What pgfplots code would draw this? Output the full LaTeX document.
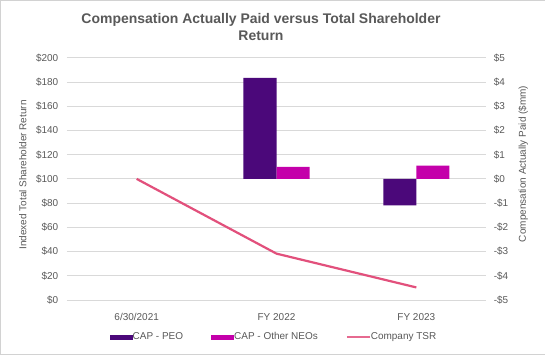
\documentclass[border=0pt]{standalone}
\usepackage{pgfplots}
\pgfplotsset{compat=1.18}
\usepackage{fontspec}
\setmainfont{Liberation Sans}
\definecolor{peo}{HTML}{4B087A}
\definecolor{neo}{HTML}{C400AA}
\definecolor{tsr}{HTML}{E2507C}
\definecolor{gridgray}{HTML}{D9D9D9}
\definecolor{txtgray}{HTML}{595959}
\begin{document}
\begin{tikzpicture}
\draw[gray!35, fill=white] (-66.5bp,-54.5bp) rectangle (477.5bp,299.5bp);
\begin{axis}[
  at={(0,0)}, anchor=south west,
  width=419bp, height=242bp, scale only axis,
  xmin=-0.5, xmax=2.5, ymin=0, ymax=200,
  xtick={0,1,2}, xticklabels={6/30/2021,FY 2022,FY 2023},
  ytick={0,20,...,200},
  yticklabels={\$0,\$20,\$40,\$60,\$80,\$100,\$120,\$140,\$160,\$180,\$200},
  ymajorgrids, grid style={color=gridgray, line width=0.9bp},
  axis line style={draw=none}, major tick length=0pt,
  tick label style={font=\fontsize{10}{12}\selectfont, text=txtgray},
  yticklabel style={xshift=-5bp},
  xticklabel style={yshift=-10bp},
  clip=false,
]
\addplot[tsr, line width=2.2bp] coordinates {(0,100) (1,38.3) (2,10.4)};
\end{axis}
\begin{axis}[
  at={(0,0)}, anchor=south west,
  width=419bp, height=242bp, scale only axis,
  xmin=-0.5, xmax=2.5, ymin=-5, ymax=5,
  axis x line=none, axis y line*=right,
  ytick={-5,-4,...,5},
  yticklabels={-\$5,-\$4,-\$3,-\$2,-\$1,\$0,\$1,\$2,\$3,\$4,\$5},
  axis line style={draw=none}, major tick length=0pt,
  tick label style={font=\fontsize{10}{12}\selectfont, text=txtgray},
  yticklabel style={xshift=4bp},
  ybar, bar width=33bp,
  legend columns=3,
  legend style={draw=none, fill=none, font=\fontsize{10}{12}\selectfont, text=txtgray,
    at={(0.494,-0.153)}, anchor=center,
    /tikz/every even column/.append style={column sep=26bp},
    /tikz/every odd column/.append style={column sep=-2bp}},
]
\addplot[fill=peo, draw=none, bar shift=-16.5bp,
  legend image code/.code={\fill[peo] (0bp,-2.5bp) rectangle (23bp,2.5bp);}]
  coordinates {(1,4.17) (2,-1.09)};
\addlegendentry{CAP - PEO}
\addplot[fill=neo, draw=none, bar shift=16.5bp,
  legend image code/.code={\fill[neo] (0bp,-2.5bp) rectangle (23bp,2.5bp);}]
  coordinates {(1,0.50) (2,0.55)};
\addlegendentry{CAP - Other NEOs}
\addlegendimage{legend image code/.code={\draw[tsr!85, line width=2bp] (0bp,0bp) -- (23bp,0bp);}}
\addlegendentry{Company TSR}
\end{axis}
\node[align=center, font=\bfseries\fontsize{14}{17}\selectfont, text=txtgray] at (194bp,273bp)
  {Compensation Actually Paid versus Total Shareholder\\Return};
\node[rotate=90, font=\fontsize{10}{12}\selectfont, text=txtgray] at (-44bp,125bp) {Indexed Total Shareholder Return};
\node[rotate=90, font=\fontsize{10}{12}\selectfont, text=txtgray] at (456bp,136bp) {Compensation Actually Paid (\$mm)};
\end{tikzpicture}
\end{document}
